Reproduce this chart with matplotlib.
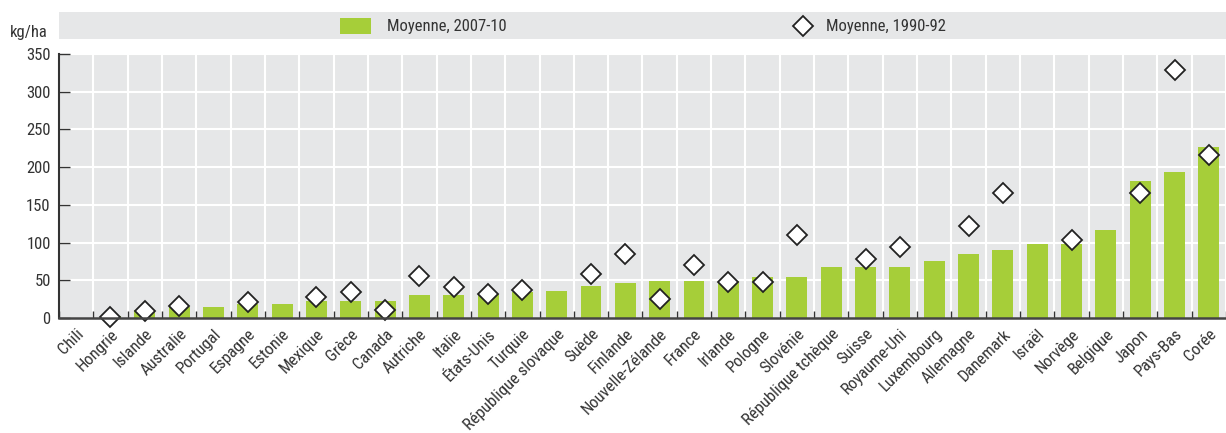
import matplotlib.pyplot as plt
import numpy as np
from matplotlib.patches import Rectangle

# Data (kg/ha)
countries = ['Chili', 'Hongrie', 'Islande', 'Australie', 'Portugal', 'Espagne', 'Estonie',
             'Mexique', 'Grèce', 'Canada', 'Autriche', 'Italie', 'États-Unis', 'Turquie',
             'République slovaque', 'Suède', 'Finlande', 'Nouvelle-Zélande', 'France',
             'Irlande', 'Pologne', 'Slovénie', 'République tchèque', 'Suisse',
             'Royaume-Uni', 'Luxembourg', 'Allemagne', 'Danemark', 'Israël', 'Norvège',
             'Belgique', 'Japon', 'Pays-Bas', 'Corée']
avg_2007_10 = [0, 3, 11, 14, 14, 18, 18, 22, 23, 23, 30, 31, 32, 35, 36, 43, 47, 49, 49,
               49, 55, 55, 67, 67, 67, 76, 85, 90, 98, 98, 117, 181, 194, 227]
avg_1990_92 = [np.nan, 1, 9, 16, np.nan, 21, np.nan, 28, 34, 11, 56, 41, 32, 37, np.nan,
               58, 85, 25, 70, 48, 48, 110, np.nan, 78, 94, np.nan, 122, 166, np.nan, 104,
               np.nan, 166, 329, 216]
yticks = [0, 50, 100, 150, 200, 250, 300, 350]

plt.rcParams['font.family'] = ['Roboto Condensed', 'DejaVu Sans']
green = '#a6ce39'
bg = '#e6e7e8'
txt = '#333333'
fs = 12

W, H = 1226, 433
fig = plt.figure(figsize=(W / 100, H / 100), dpi=100)

# main axes
left, top, bottom = 59, 54, 318
ax = fig.add_axes([left / W, 1 - bottom / H, (W - left) / W, (bottom - top) / H])
ax.set_facecolor(bg)
x = np.arange(len(countries))
ax.bar(x, avg_2007_10, width=0.61, color=green, zorder=2)
ax.plot(x, avg_1990_92, linestyle='none', marker='D', markersize=10,
        markerfacecolor='white', markeredgecolor='#222222', markeredgewidth=1.3,
        zorder=4, clip_on=False)

ax.set_xlim(-0.5, 33.26)
ax.set_ylim(0, 350)
ax.set_yticks(yticks)
ax.set_yticklabels([str(v) for v in yticks], fontsize=fs, color=txt)
ax.set_xticks(x)
ax.set_xticklabels(countries, rotation=45, ha='right', va='top',
                   rotation_mode='anchor', fontsize=fs, color=txt)
ax.tick_params(axis='x', length=0, pad=6)
ax.set_xticks(np.arange(-0.5, 34, 1), minor=True)
ax.tick_params(axis='x', which='minor', direction='in', length=5, width=1, color='#333333')
ax.tick_params(axis='y', direction='in', length=8, width=1, color='#333333', pad=6)

for b in np.arange(0.5, 34, 1):
    ax.axvline(b, color='white', lw=1.5, zorder=1)
for v in yticks[1:]:
    ax.axhline(v, color='white', lw=1.5, zorder=1)

for s in ['top', 'right']:
    ax.spines[s].set_visible(False)
ax.spines['left'].set_color('#333333')
ax.spines['left'].set_linewidth(1.5)
ax.spines['bottom'].set_color('#444444')
ax.spines['bottom'].set_linewidth(1.8)
ax.spines['bottom'].set_zorder(5)

fig.text(10 / W, 1 - 33 / H, 'kg/ha', fontsize=fs, color=txt, va='center', ha='left')

# legend band
fig.patches.append(Rectangle((left / W, 1 - 39 / H), (W - left) / W, 27 / H,
                             transform=fig.transFigure, facecolor=bg, edgecolor='none'))
fig.patches.append(Rectangle((340 / W, 1 - 34 / H), 31 / W, 16 / H,
                             transform=fig.transFigure, facecolor=green, edgecolor='none'))
fig.text(387 / W, 1 - 26 / H, 'Moyenne, 2007-10', fontsize=fs, color=txt, va='center')
fig.add_artist(plt.Line2D([803 / W], [1 - 26 / H], transform=fig.transFigure,
                          marker='D', markersize=10, markerfacecolor='white',
                          markeredgecolor='#222222', markeredgewidth=1.3))
fig.text(826 / W, 1 - 26 / H, 'Moyenne, 1990-92', fontsize=fs, color=txt, va='center')

fig.savefig('out.png', dpi=100)
